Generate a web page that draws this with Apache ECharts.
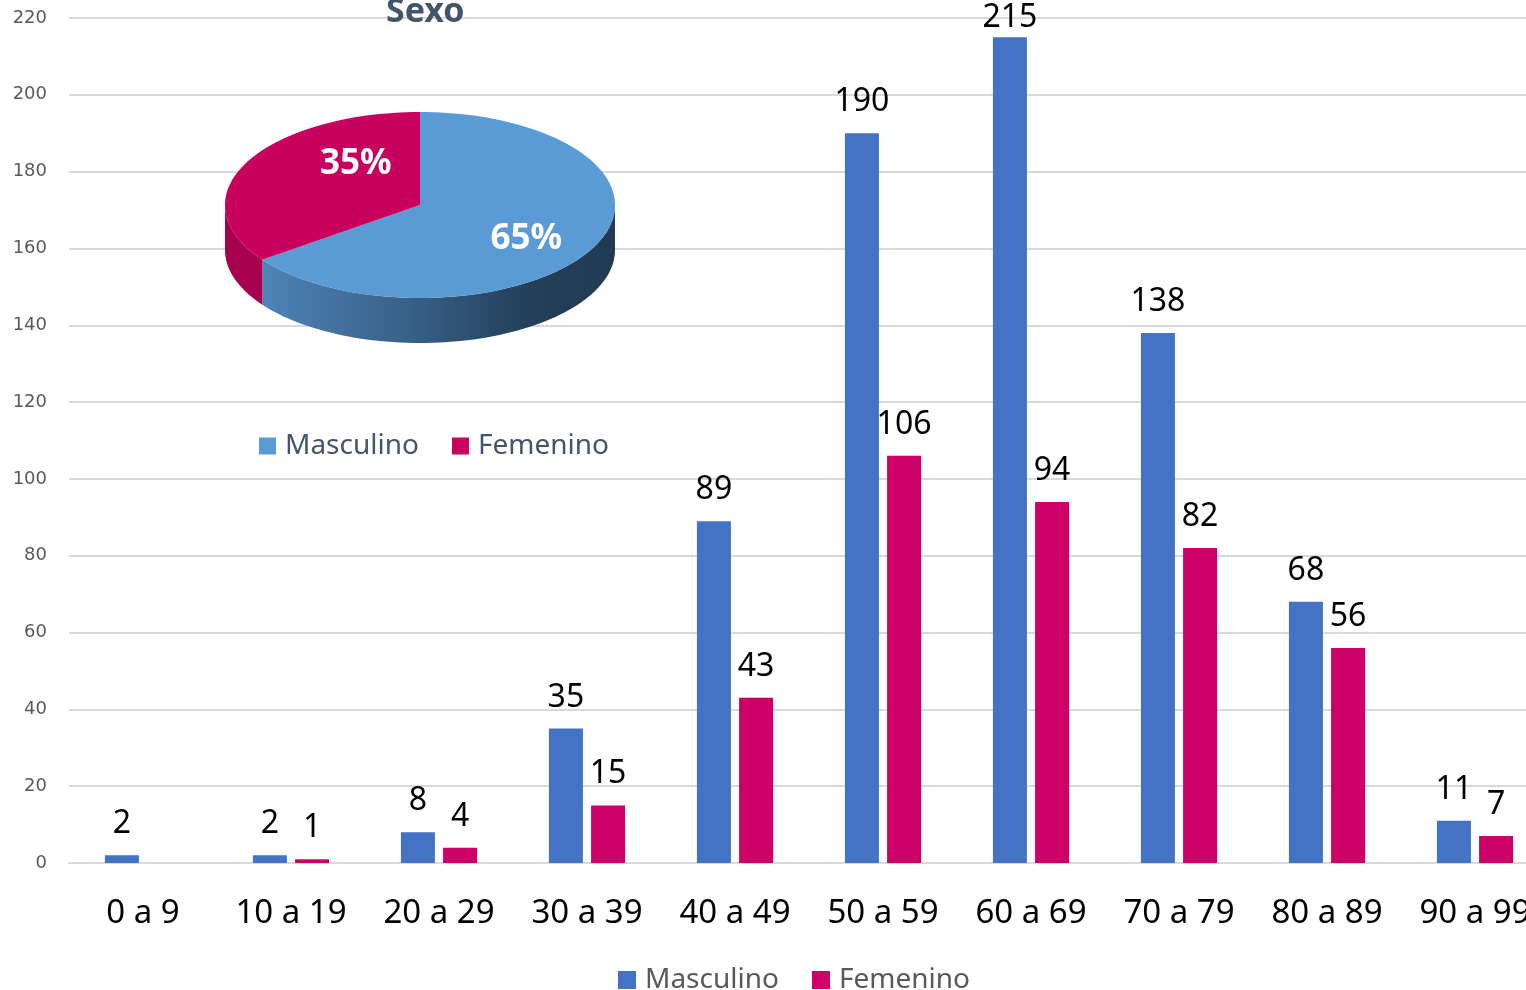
<!DOCTYPE html>
<html>
<head>
<meta charset="utf-8">
<script src="https://cdn.jsdelivr.net/npm/echarts@6/dist/echarts.min.js"></script>
<style>
html, body { margin: 0; padding: 0; background: #fff; overflow: hidden; }
#chart { width: 1549px; height: 990px; }
</style>
</head>
<body>
<div id="chart"></div>
<script>
// datos
const ageGroups = ['0 a 9', '10 a 19', '20 a 29', '30 a 39', '40 a 49', '50 a 59', '60 a 69', '70 a 79', '80 a 89', '90 a 99']
const maleCounts = [2, 2, 8, 35, 89, 190, 215, 138, 68, 11]
const femaleCounts = [0, 1, 4, 15, 43, 106, 94, 82, 56, 7]
const sexNames = ['Masculino', 'Femenino']
const sexShare = [65, 35]
const yMax = 220
const yStep = 20

const FONT = 'Noto Sans'
const barColors = ['#4472C4', '#CC0066']
const pieColors = ['#5B9BD5', '#C8005E']
// pie 3d: centro, radios y grosor
const PIE = { cx: 420, cy: 205, rx: 195, ry: 93, depth: 45 }
const labelOffsets = [[2, 9], [40, -16]]

const myChart = echarts.init(document.getElementById('chart'))

function ellPt (t, dy) {
    const r = t * Math.PI / 180
    return [PIE.cx + PIE.rx * Math.cos(r), PIE.cy - PIE.ry * Math.sin(r) + (dy || 0)]
}

function arcPts (a, b, dy) {
    // a -> b, grados (puede ir hacia abajo)
    const n = Math.max(2, Math.ceil(Math.abs(b - a) / 2))
    const pts = []
    for (let k = 0; k <= n; k++) pts.push(ellPt(a + (b - a) * k / n, dy))
    return pts
}

function renderPie (params, api) {
    const total = sexShare.reduce((s, v) => s + v, 0)
    let cum = 0
    for (let k = 0; k < params.dataIndex; k++) cum += sexShare[k]
    const val = api.value(0)
    // sentido horario desde las 12
    const t0 = 90 - 360 * cum / total
    const t1 = 90 - 360 * (cum + val) / total
    const children = []

    // cara lateral (mitad inferior visible)
    for (let k = -2; k <= 1; k++) {
        const lo = Math.max(t1, k * 360 - 180)
        const hi = Math.min(t0, k * 360)
        if (hi - lo <= 0) continue
        const top = arcPts(hi, lo, 0)
        const bot = arcPts(lo, hi, PIE.depth)
        const fill = params.dataIndex === 0
            ? { type: 'linear', x: 0, y: 0, x2: 1, y2: 0, colorStops: [
                { offset: 0, color: '#4D84B8' },
                { offset: 0.45, color: '#365D84' },
                { offset: 0.75, color: '#243F59' },
                { offset: 1, color: '#223B53' }] }
            : '#A6004E'
        children.push({ type: 'polygon', z2: 1, shape: { points: top.concat(bot) }, style: { fill: fill } })
    }

    // cara superior
    const face = [[PIE.cx, PIE.cy]].concat(arcPts(t0, t1, 0))
    children.push({ type: 'polygon', z2: 5, shape: { points: face }, style: { fill: pieColors[params.dataIndex] } })

    // etiqueta
    const mid = (t0 + t1) / 2 * Math.PI / 180
    const off = labelOffsets[params.dataIndex]
    children.push({
        type: 'text', z2: 10,
        x: PIE.cx + PIE.rx * 0.6 * Math.cos(mid) + off[0],
        y: PIE.cy - PIE.ry * 0.6 * Math.sin(mid) + off[1],
        style: {
            text: Math.round(val / total * 100) + '%',
            fill: '#fff', font: 'bold 35px "' + FONT + '"',
            align: 'center', verticalAlign: 'middle'
        }
    })
    return { type: 'group', children: children }
}

const barLabel = {
    show: true, position: 'top', distance: 15,
    color: '#000', fontFamily: FONT, fontSize: 32,
    formatter: p => (p.value ? p.value : '')
}
// que la etiqueta no se salga por arriba
const keepInside = p => ({ dy: Math.max(0, 2 - p.labelRect.y) })

const option = {
    animation: false,
    backgroundColor: '#fff',
    title: {
        text: 'Sexo',
        left: 381,
        top: -10,
        textStyle: { fontFamily: FONT, fontSize: 34, fontWeight: 'bold', color: '#44546A' }
    },
    legend: [
        {
            data: sexNames.map((n, i) => ({ name: n, itemStyle: { color: pieColors[i] } })),
            left: 254,
            top: 427,
            icon: 'rect',
            itemWidth: 17, itemHeight: 17, itemGap: 33,
            selectedMode: false,
            textStyle: { fontFamily: FONT, fontSize: 28, color: '#44546A', padding: [0, 0, 0, 4] }
        },
        {
            data: sexNames,
            left: 613,
            top: 961,
            icon: 'rect',
            itemWidth: 18, itemHeight: 18, itemGap: 33,
            selectedMode: false,
            textStyle: { fontFamily: FONT, fontSize: 28, color: '#595959', padding: [0, 0, 0, 4] }
        }
    ],
    grid: {
        left: 69,
        top: 18,
        width: 1480,
        bottom: 127
    },
    xAxis: {
        type: 'category',
        data: ageGroups,
        axisTick: { show: false },
        axisLine: { show: true, lineStyle: { color: '#D9D9D9', width: 2 } },
        axisLabel: { color: '#000', fontFamily: FONT, fontSize: 33, margin: 34, interval: 0 }
    },
    yAxis: {
        type: 'value',
        min: 0,
        max: yMax,
        interval: yStep,
        axisLine: { show: false },
        axisTick: { show: false },
        axisLabel: { color: '#595959', fontFamily: 'DejaVu Sans', fontSize: 18, margin: 22 },
        splitLine: { lineStyle: { color: '#D9D9D9', width: 2 } }
    },
    series: [
        {
            name: sexNames[0],
            type: 'bar',
            data: maleCounts,
            barWidth: 34,
            barGap: '24%',
            itemStyle: { color: barColors[0] },
            label: barLabel,
            labelLayout: keepInside
        },
        {
            name: sexNames[1],
            type: 'bar',
            data: femaleCounts,
            barWidth: 34,
            barGap: '24%',
            itemStyle: { color: barColors[1] },
            label: barLabel,
            labelLayout: keepInside
        },
        {
            name: 'Sexo',
            type: 'custom',
            coordinateSystem: 'none',
            z: 10,
            data: sexShare.map((v, i) => ({ value: [v], name: sexNames[i] })),
            renderItem: renderPie
        }
    ]
}
myChart.setOption(option)
</script>
</body>
</html>
